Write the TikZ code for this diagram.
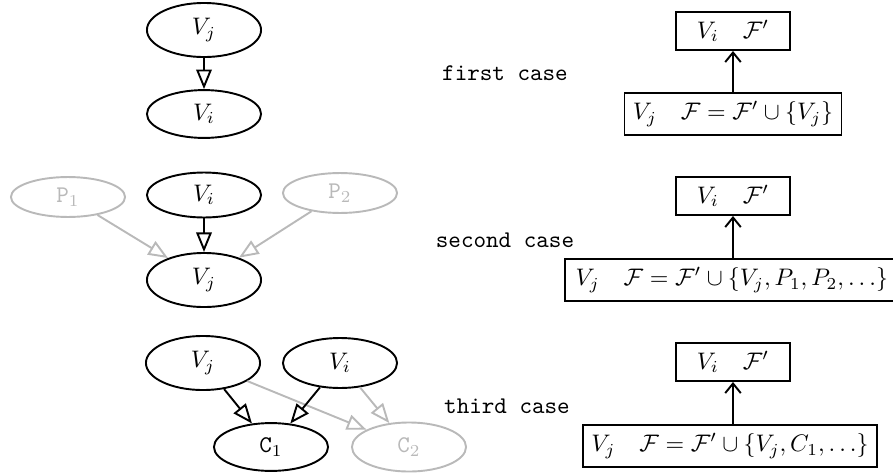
\documentclass[tikz,border=0pt]{standalone}
\usetikzlibrary{arrows.meta,shapes.geometric}
\definecolor{lg}{RGB}{185,185,185}
\begin{document}
\begin{tikzpicture}[x=0.418pt,y=-0.418pt,
 ell/.style={ellipse,draw,line width=0.8pt,minimum width=47.7pt,inner sep=0pt},
 gell/.style={ell,draw=lg,text=lg},
 tri/.style={-{Triangle[open,length=8.2pt,width=6.5pt]},line width=0.8pt},
 gtri/.style={tri,draw=lg},
 box/.style={rectangle,draw,line width=0.8pt,inner xsep=3.5pt,inner ysep=0pt,minimum width=47.7pt},
 topbox/.style={box,minimum height=15.9pt},
 botbox/.style={box,minimum height=17.6pt},
 up/.style={-{Straight Barb[length=4pt,width=6.5pt]},line width=0.8pt},
 lbl/.style={font=\ttfamily}]
\useasboundingbox (0,0) rectangle (893,472);
% first case
\node[ell,minimum height=22.6pt] (vj1) at (204,30) {$V_j$};
\node[ell,minimum height=20pt] (vi1) at (204,114) {$V_i$};
\draw[tri] (vj1) -- (vi1);
% second case
\node[gell,minimum height=16.7pt] (p1) at (68,197) {\texttt{P}$_1$};
\node[ell,minimum height=18.8pt] (vi2) at (204,195) {$V_i$};
\node[gell,minimum height=16.7pt] (p2) at (340,193) {\texttt{P}$_2$};
\node[ell,minimum height=22.6pt] (vj2) at (204,280) {$V_j$};
\draw[gtri] (p1) -- (vj2);
\draw[gtri] (p2) -- (vj2);
\draw[tri] (vi2) -- (vj2);
% third case
\node[ell,minimum height=22.6pt] (vj3) at (203,363) {$V_j$};
\node[ell,minimum height=20.9pt] (vi3) at (340,363) {$V_i$};
\node[ell,minimum height=20pt] (c1) at (271,447) {\texttt{C}$_1$};
\node[gell,minimum height=20.5pt] (c2) at (409,447) {\texttt{C}$_2$};
\draw[gtri] (vj3) -- (c2);
\draw[gtri] (vi3) -- (c2);
\draw[tri] (vj3) -- (c1);
\draw[tri] (vi3) -- (c1);
% right side
\node[lbl] (l1) at (505,73) {first case};
\node[topbox] (t1) at (733,31) {$V_i\quad\mathcal{F}'$};
\node[botbox] (b1) at (733,114) {$V_j\quad\mathcal{F}=\mathcal{F}'\cup\{V_j\}$};
\draw[up] (b1) -- (t1);

\node[lbl] (l2) at (505,240) {second case};
\node[topbox] (t2) at (733,196) {$V_i\quad\mathcal{F}'$};
\node[botbox,anchor=west,inner xsep=4.5pt] (b2) at (564,280) {$V_j\quad\mathcal{F}=\mathcal{F}'\cup\{V_j,P_1,P_2,\ldots\}$};
\draw[up] (b2.north -| t2.south) -- (t2.south);

\node[lbl] (l3) at (507,406) {third case};
\node[topbox] (t3) at (733,362) {$V_i\quad\mathcal{F}'$};
\node[botbox,anchor=west] (b3) at (582,446) {$V_j\quad\mathcal{F}=\mathcal{F}'\cup\{V_j,C_1,\ldots\}$};
\draw[up] (b3.north -| t3.south) -- (t3.south);
\end{tikzpicture}
\end{document}
